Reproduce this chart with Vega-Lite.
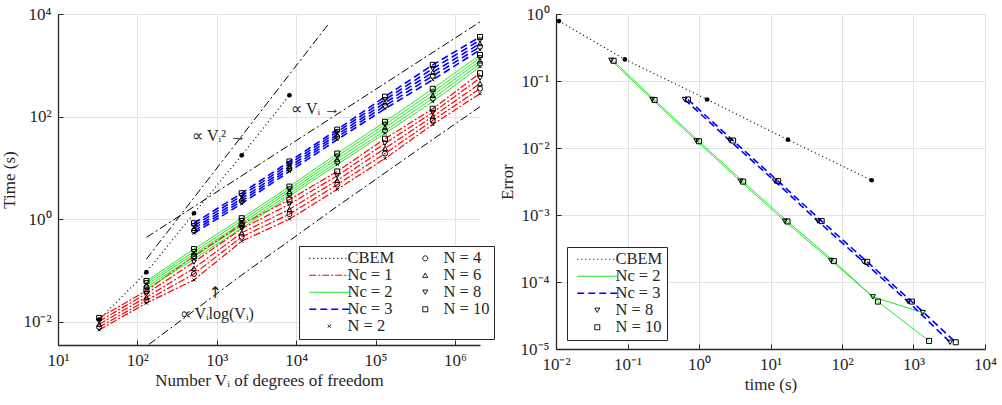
{
  "$schema": "https://vega.github.io/schema/vega-lite/v6.json",
  "background": "white",
  "padding": {"left": 0, "top": 5, "right": 1, "bottom": 5},
  "spacing": 3,
  "config": {
    "view": {"stroke": null},
    "font": "Liberation Serif",
    "axis": {
      "domainColor": "#262626", "domainWidth": 1.3, "tickColor": "#262626", "tickSize": -5,
      "labelFont": "Liberation Serif", "labelFontSize": 17, "labelColor": "#262626", "labelPadding": 12,
      "titleFont": "Liberation Serif", "titleFontSize": 17, "titleFontWeight": "normal", "titleColor": "#262626",
      "gridColor": "#e3e3e3", "gridWidth": 1, "labelFlush": false, "titlePadding": 4
    },
    "legend": {
      "title": null, "fillColor": "white", "strokeColor": "#262626", "padding": 4,
      "labelFont": "Liberation Serif", "labelFontSize": 16.5, "labelColor": "#262626",
      "rowPadding": 0, "columnPadding": 4, "symbolSize": 25, "symbolOffset": 18, "labelOffset": 10, "labelLimit": 80
    }
  },
  "resolve": {
    "scale": {"color": "independent", "shape": "independent", "strokeDash": "independent", "strokeWidth": "independent"},
    "legend": {"color": "independent", "shape": "independent", "strokeDash": "independent", "strokeWidth": "independent"}
  },
  "datasets": {
    "leftref": [
      {"V": 130, "t": 0.166, "ref": "V2"}, {"V": 25600, "t": 6400, "ref": "V2"},
      {"V": 130, "t": 0.44, "ref": "V1"}, {"V": 2070000, "t": 7000, "ref": "V1"},
      {"V": 140, "t": 0.0036, "ref": "VlogV"}, {"V": 2060, "t": 0.081, "ref": "VlogV"}, {"V": 32900, "t": 1.77, "ref": "VlogV"}, {"V": 526000, "t": 35.8, "ref": "VlogV"}, {"V": 2070000, "t": 155, "ref": "VlogV"}
    ],
    "leftlabels": [
      {"V": 1070, "t": 41, "label": "∝ Vᵢ² →"},
      {"V": 17600, "t": 142, "label": "∝ Vᵢ →"},
      {"V": 1000, "t": 0.0141, "label": "∝ Vᵢlog(Vᵢ)"}
    ],
    "leftarrow": [
      {"V": 955, "t": 0.036, "label": "↑"}
    ],
    "left": [
      {"V": 33, "t": 0.011, "Nc": "CBEM", "N": "CBEM"}, {"V": 130, "t": 0.092, "Nc": "CBEM", "N": "CBEM"}, {"V": 516, "t": 1.3, "Nc": "CBEM", "N": "CBEM"}, {"V": 2060, "t": 17.5, "Nc": "CBEM", "N": "CBEM"}, {"V": 8230, "t": 260, "Nc": "CBEM", "N": "CBEM"},

      {"V": 33, "t": 0.0069, "Nc": "Nc = 1", "N": "N = 2"}, {"V": 130, "t": 0.023, "Nc": "Nc = 1", "N": "N = 2"}, {"V": 516, "t": 0.065, "Nc": "Nc = 1", "N": "N = 2"}, {"V": 2060, "t": 0.37, "Nc": "Nc = 1", "N": "N = 2"}, {"V": 8230, "t": 1.0, "Nc": "Nc = 1", "N": "N = 2"}, {"V": 32900, "t": 3.8, "Nc": "Nc = 1", "N": "N = 2"}, {"V": 131600, "t": 15.2, "Nc": "Nc = 1", "N": "N = 2"}, {"V": 526000, "t": 70, "Nc": "Nc = 1", "N": "N = 2"}, {"V": 2070000, "t": 280, "Nc": "Nc = 1", "N": "N = 2"},
      {"V": 33, "t": 0.0078, "Nc": "Nc = 1", "N": "N = 4"}, {"V": 130, "t": 0.026, "Nc": "Nc = 1", "N": "N = 4"}, {"V": 516, "t": 0.085, "Nc": "Nc = 1", "N": "N = 4"}, {"V": 2060, "t": 0.45, "Nc": "Nc = 1", "N": "N = 4"}, {"V": 8230, "t": 1.25, "Nc": "Nc = 1", "N": "N = 4"}, {"V": 32900, "t": 4.7, "Nc": "Nc = 1", "N": "N = 4"}, {"V": 131600, "t": 19, "Nc": "Nc = 1", "N": "N = 4"}, {"V": 526000, "t": 84, "Nc": "Nc = 1", "N": "N = 4"}, {"V": 2070000, "t": 350, "Nc": "Nc = 1", "N": "N = 4"},
      {"V": 33, "t": 0.0089, "Nc": "Nc = 1", "N": "N = 6"}, {"V": 130, "t": 0.030, "Nc": "Nc = 1", "N": "N = 6"}, {"V": 516, "t": 0.11, "Nc": "Nc = 1", "N": "N = 6"}, {"V": 2060, "t": 0.54, "Nc": "Nc = 1", "N": "N = 6"}, {"V": 8230, "t": 1.55, "Nc": "Nc = 1", "N": "N = 6"}, {"V": 32900, "t": 5.7, "Nc": "Nc = 1", "N": "N = 6"}, {"V": 131600, "t": 24, "Nc": "Nc = 1", "N": "N = 6"}, {"V": 526000, "t": 100, "Nc": "Nc = 1", "N": "N = 6"}, {"V": 2070000, "t": 440, "Nc": "Nc = 1", "N": "N = 6"},
      {"V": 33, "t": 0.0102, "Nc": "Nc = 1", "N": "N = 8"}, {"V": 130, "t": 0.035, "Nc": "Nc = 1", "N": "N = 8"}, {"V": 516, "t": 0.145, "Nc": "Nc = 1", "N": "N = 8"}, {"V": 2060, "t": 0.65, "Nc": "Nc = 1", "N": "N = 8"}, {"V": 8230, "t": 1.95, "Nc": "Nc = 1", "N": "N = 8"}, {"V": 32900, "t": 7.0, "Nc": "Nc = 1", "N": "N = 8"}, {"V": 131600, "t": 30, "Nc": "Nc = 1", "N": "N = 8"}, {"V": 526000, "t": 120, "Nc": "Nc = 1", "N": "N = 8"}, {"V": 2070000, "t": 560, "Nc": "Nc = 1", "N": "N = 8"},
      {"V": 33, "t": 0.0118, "Nc": "Nc = 1", "N": "N = 10"}, {"V": 130, "t": 0.040, "Nc": "Nc = 1", "N": "N = 10"}, {"V": 516, "t": 0.19, "Nc": "Nc = 1", "N": "N = 10"}, {"V": 2060, "t": 0.79, "Nc": "Nc = 1", "N": "N = 10"}, {"V": 8230, "t": 2.4, "Nc": "Nc = 1", "N": "N = 10"}, {"V": 32900, "t": 8.5, "Nc": "Nc = 1", "N": "N = 10"}, {"V": 131600, "t": 37, "Nc": "Nc = 1", "N": "N = 10"}, {"V": 526000, "t": 142, "Nc": "Nc = 1", "N": "N = 10"}, {"V": 2070000, "t": 700, "Nc": "Nc = 1", "N": "N = 10"},

      {"V": 130, "t": 0.043, "Nc": "Nc = 2", "N": "N = 2"}, {"V": 516, "t": 0.166, "Nc": "Nc = 2", "N": "N = 2"}, {"V": 2060, "t": 0.66, "Nc": "Nc = 2", "N": "N = 2"}, {"V": 8230, "t": 2.8, "Nc": "Nc = 2", "N": "N = 2"}, {"V": 32900, "t": 11.6, "Nc": "Nc = 2", "N": "N = 2"}, {"V": 131600, "t": 47, "Nc": "Nc = 2", "N": "N = 2"}, {"V": 526000, "t": 195, "Nc": "Nc = 2", "N": "N = 2"}, {"V": 2070000, "t": 935, "Nc": "Nc = 2", "N": "N = 2"},
      {"V": 130, "t": 0.047, "Nc": "Nc = 2", "N": "N = 4"}, {"V": 516, "t": 0.185, "Nc": "Nc = 2", "N": "N = 4"}, {"V": 2060, "t": 0.74, "Nc": "Nc = 2", "N": "N = 4"}, {"V": 8230, "t": 3.1, "Nc": "Nc = 2", "N": "N = 4"}, {"V": 32900, "t": 13, "Nc": "Nc = 2", "N": "N = 4"}, {"V": 131600, "t": 53, "Nc": "Nc = 2", "N": "N = 4"}, {"V": 526000, "t": 225, "Nc": "Nc = 2", "N": "N = 4"}, {"V": 2070000, "t": 1070, "Nc": "Nc = 2", "N": "N = 4"},
      {"V": 130, "t": 0.052, "Nc": "Nc = 2", "N": "N = 6"}, {"V": 516, "t": 0.208, "Nc": "Nc = 2", "N": "N = 6"}, {"V": 2060, "t": 0.83, "Nc": "Nc = 2", "N": "N = 6"}, {"V": 8230, "t": 3.45, "Nc": "Nc = 2", "N": "N = 6"}, {"V": 32900, "t": 14.8, "Nc": "Nc = 2", "N": "N = 6"}, {"V": 131600, "t": 61, "Nc": "Nc = 2", "N": "N = 6"}, {"V": 526000, "t": 260, "Nc": "Nc = 2", "N": "N = 6"}, {"V": 2070000, "t": 1220, "Nc": "Nc = 2", "N": "N = 6"},
      {"V": 130, "t": 0.057, "Nc": "Nc = 2", "N": "N = 8"}, {"V": 516, "t": 0.232, "Nc": "Nc = 2", "N": "N = 8"}, {"V": 2060, "t": 0.93, "Nc": "Nc = 2", "N": "N = 8"}, {"V": 8230, "t": 3.85, "Nc": "Nc = 2", "N": "N = 8"}, {"V": 32900, "t": 16.8, "Nc": "Nc = 2", "N": "N = 8"}, {"V": 131600, "t": 70, "Nc": "Nc = 2", "N": "N = 8"}, {"V": 526000, "t": 300, "Nc": "Nc = 2", "N": "N = 8"}, {"V": 2070000, "t": 1390, "Nc": "Nc = 2", "N": "N = 8"},
      {"V": 130, "t": 0.062, "Nc": "Nc = 2", "N": "N = 10"}, {"V": 516, "t": 0.26, "Nc": "Nc = 2", "N": "N = 10"}, {"V": 2060, "t": 1.04, "Nc": "Nc = 2", "N": "N = 10"}, {"V": 8230, "t": 4.3, "Nc": "Nc = 2", "N": "N = 10"}, {"V": 32900, "t": 19, "Nc": "Nc = 2", "N": "N = 10"}, {"V": 131600, "t": 79, "Nc": "Nc = 2", "N": "N = 10"}, {"V": 526000, "t": 348, "Nc": "Nc = 2", "N": "N = 10"}, {"V": 2070000, "t": 1590, "Nc": "Nc = 2", "N": "N = 10"},

      {"V": 516, "t": 0.53, "Nc": "Nc = 3", "N": "N = 2"}, {"V": 2060, "t": 2.0, "Nc": "Nc = 3", "N": "N = 2"}, {"V": 8230, "t": 8.5, "Nc": "Nc = 3", "N": "N = 2"}, {"V": 32900, "t": 35.5, "Nc": "Nc = 3", "N": "N = 2"}, {"V": 131600, "t": 142, "Nc": "Nc = 3", "N": "N = 2"}, {"V": 526000, "t": 521, "Nc": "Nc = 3", "N": "N = 2"}, {"V": 2070000, "t": 2000, "Nc": "Nc = 3", "N": "N = 2"},
      {"V": 516, "t": 0.59, "Nc": "Nc = 3", "N": "N = 4"}, {"V": 2060, "t": 2.25, "Nc": "Nc = 3", "N": "N = 4"}, {"V": 8230, "t": 9.5, "Nc": "Nc = 3", "N": "N = 4"}, {"V": 32900, "t": 40, "Nc": "Nc = 3", "N": "N = 4"}, {"V": 131600, "t": 162, "Nc": "Nc = 3", "N": "N = 4"}, {"V": 526000, "t": 620, "Nc": "Nc = 3", "N": "N = 4"}, {"V": 2070000, "t": 2300, "Nc": "Nc = 3", "N": "N = 4"},
      {"V": 516, "t": 0.66, "Nc": "Nc = 3", "N": "N = 6"}, {"V": 2060, "t": 2.5, "Nc": "Nc = 3", "N": "N = 6"}, {"V": 8230, "t": 10.6, "Nc": "Nc = 3", "N": "N = 6"}, {"V": 32900, "t": 44.5, "Nc": "Nc = 3", "N": "N = 6"}, {"V": 131600, "t": 186, "Nc": "Nc = 3", "N": "N = 6"}, {"V": 526000, "t": 730, "Nc": "Nc = 3", "N": "N = 6"}, {"V": 2070000, "t": 2650, "Nc": "Nc = 3", "N": "N = 6"},
      {"V": 516, "t": 0.74, "Nc": "Nc = 3", "N": "N = 8"}, {"V": 2060, "t": 2.85, "Nc": "Nc = 3", "N": "N = 8"}, {"V": 8230, "t": 11.9, "Nc": "Nc = 3", "N": "N = 8"}, {"V": 32900, "t": 50, "Nc": "Nc = 3", "N": "N = 8"}, {"V": 131600, "t": 213, "Nc": "Nc = 3", "N": "N = 8"}, {"V": 526000, "t": 860, "Nc": "Nc = 3", "N": "N = 8"}, {"V": 2070000, "t": 3080, "Nc": "Nc = 3", "N": "N = 8"},
      {"V": 516, "t": 0.83, "Nc": "Nc = 3", "N": "N = 10"}, {"V": 2060, "t": 3.2, "Nc": "Nc = 3", "N": "N = 10"}, {"V": 8230, "t": 13.3, "Nc": "Nc = 3", "N": "N = 10"}, {"V": 32900, "t": 55.6, "Nc": "Nc = 3", "N": "N = 10"}, {"V": 131600, "t": 244, "Nc": "Nc = 3", "N": "N = 10"}, {"V": 526000, "t": 1020, "Nc": "Nc = 3", "N": "N = 10"}, {"V": 2070000, "t": 3570, "Nc": "Nc = 3", "N": "N = 10"}
    ],
    "right": [
      {"time": 0.011, "err": 0.785, "Nc": "CBEM", "N": "CBEM"}, {"time": 0.092, "err": 0.21, "Nc": "CBEM", "N": "CBEM"}, {"time": 1.3, "err": 0.053, "Nc": "CBEM", "N": "CBEM"}, {"time": 17.5, "err": 0.0133, "Nc": "CBEM", "N": "CBEM"}, {"time": 260, "err": 0.0033, "Nc": "CBEM", "N": "CBEM"},
      {"time": 0.059, "err": 0.204, "Nc": "Nc = 2", "N": "N = 8"}, {"time": 0.222, "err": 0.053, "Nc": "Nc = 2", "N": "N = 8"}, {"time": 0.92, "err": 0.0128, "Nc": "Nc = 2", "N": "N = 8"}, {"time": 3.8, "err": 0.0032, "Nc": "Nc = 2", "N": "N = 8"}, {"time": 15.8, "err": 0.00081, "Nc": "Nc = 2", "N": "N = 8"}, {"time": 70, "err": 0.00021, "Nc": "Nc = 2", "N": "N = 8"}, {"time": 270, "err": 0.00006, "Nc": "Nc = 2", "N": "N = 8"}, {"time": 1350, "err": 0.000035, "Nc": "Nc = 2", "N": "N = 8"},
      {"time": 0.064, "err": 0.2, "Nc": "Nc = 2", "N": "N = 10"}, {"time": 0.24, "err": 0.052, "Nc": "Nc = 2", "N": "N = 10"}, {"time": 1.0, "err": 0.0126, "Nc": "Nc = 2", "N": "N = 10"}, {"time": 4.15, "err": 0.00315, "Nc": "Nc = 2", "N": "N = 10"}, {"time": 17.3, "err": 0.0008, "Nc": "Nc = 2", "N": "N = 10"}, {"time": 77, "err": 0.000205, "Nc": "Nc = 2", "N": "N = 10"}, {"time": 318, "err": 0.000051, "Nc": "Nc = 2", "N": "N = 10"}, {"time": 1650, "err": 0.0000132, "Nc": "Nc = 2", "N": "N = 10"},
      {"time": 0.63, "err": 0.053, "Nc": "Nc = 3", "N": "N = 8"}, {"time": 2.7, "err": 0.0129, "Nc": "Nc = 3", "N": "N = 8"}, {"time": 11.5, "err": 0.0032, "Nc": "Nc = 3", "N": "N = 8"}, {"time": 46, "err": 0.00081, "Nc": "Nc = 3", "N": "N = 8"}, {"time": 200, "err": 0.0002, "Nc": "Nc = 3", "N": "N = 8"}, {"time": 840, "err": 0.000051, "Nc": "Nc = 3", "N": "N = 8"}, {"time": 3250, "err": 0.0000126, "Nc": "Nc = 3", "N": "N = 8"},
      {"time": 0.7, "err": 0.053, "Nc": "Nc = 3", "N": "N = 10"}, {"time": 3.0, "err": 0.0129, "Nc": "Nc = 3", "N": "N = 10"}, {"time": 12.8, "err": 0.0032, "Nc": "Nc = 3", "N": "N = 10"}, {"time": 52, "err": 0.00081, "Nc": "Nc = 3", "N": "N = 10"}, {"time": 225, "err": 0.0002, "Nc": "Nc = 3", "N": "N = 10"}, {"time": 950, "err": 0.000051, "Nc": "Nc = 3", "N": "N = 10"}, {"time": 3900, "err": 0.0000126, "Nc": "Nc = 3", "N": "N = 10"}
    ]
  },
  "hconcat": [
    {
      "width": 422, "height": 331,
      "layer": [
        {
          "data": {"name": "leftref"},
          "mark": {"type": "line", "color": "black", "strokeWidth": 1, "strokeDash": [8, 3, 2, 3], "clip": true},
          "encoding": {
            "x": {"field": "V", "type": "quantitative", "scale": {"type": "log", "domain": [10, 2070000], "nice": false},
                  "axis": {"values": [10, 100, 1000, 10000, 100000, 1000000], "title": "Number Vᵢ of degrees of freedom",
                           "labelExpr": "'10' + replace(replace(replace(replace(replace(replace(replace(replace(''+round(log(datum.value)/LN10),'-','⁻'),'0','⁰'),'1','¹'),'2','²'),'3','³'),'4','⁴'),'5','⁵'),'6','⁶')"}},
            "y": {"field": "t", "type": "quantitative", "scale": {"type": "log", "domain": [0.0035, 10000], "nice": false},
                  "axis": {"values": [0.01, 1, 100, 10000], "title": "Time (s)",
                           "labelExpr": "'10' + replace(replace(replace(replace(replace(replace(replace(replace(''+round(log(datum.value)/LN10),'-','⁻'),'0','⁰'),'1','¹'),'2','²'),'3','³'),'4','⁴'),'5','⁵'),'6','⁶')"}},
            "detail": {"field": "ref"}
          }
        },
        {
          "data": {"name": "left"},
          "mark": {"type": "line", "clip": true},
          "encoding": {
            "x": {"field": "V", "type": "quantitative"},
            "y": {"field": "t", "type": "quantitative"},
            "color": {"field": "Nc", "type": "nominal",
                      "scale": {"domain": ["CBEM", "Nc = 1", "Nc = 2", "Nc = 3", "N = 2", "N = 4", "N = 6", "N = 8", "N = 10"],
                                "range": ["black", "#ff0000", "#00e600", "#0000ff", "black", "black", "black", "black", "black"]},
                      "legend": {"orient": "none", "legendX": 241, "legendY": 232, "columns": 2}},
            "strokeDash": {"field": "Nc", "type": "nominal",
                           "scale": {"domain": ["CBEM", "Nc = 1", "Nc = 2", "Nc = 3", "N = 2", "N = 4", "N = 6", "N = 8", "N = 10"],
                                     "range": [[1, 3], [7, 2, 2, 2], [1, 0], [7, 4], [1, 0], [1, 0], [1, 0], [1, 0], [1, 0]]}},
            "strokeWidth": {"field": "Nc", "type": "nominal",
                            "scale": {"type": "ordinal", "domain": ["CBEM", "Nc = 1", "Nc = 2", "Nc = 3", "N = 2", "N = 4", "N = 6", "N = 8", "N = 10"],
                                      "range": [1.2, 1.2, 1, 1.6, 1, 1, 1, 1, 1]}},
            "detail": {"field": "N"}
          }
        },
        {
          "data": {"name": "left"},
          "transform": [{"filter": "datum.N !== 'CBEM'"}],
          "mark": {"type": "point", "filled": false, "color": "black", "strokeWidth": 1, "opacity": 1, "size": 25},
          "encoding": {
            "x": {"field": "V", "type": "quantitative"},
            "y": {"field": "t", "type": "quantitative"},
            "shape": {"field": "N", "type": "nominal",
                      "scale": {"domain": ["CBEM", "Nc = 1", "Nc = 2", "Nc = 3", "N = 2", "N = 4", "N = 6", "N = 8", "N = 10"],
                                "range": ["M-8,0H8", "M-8,0H8", "M-8,0H8", "M-8,0H8", "M-0.6,-0.6L0.6,0.6M0.6,-0.6L-0.6,0.6", "circle", "triangle-up", "triangle-down", "square"]}}
          }
        },
        {
          "data": {"name": "left"},
          "transform": [{"filter": "datum.N === 'CBEM'"}],
          "mark": {"type": "point", "filled": true, "color": "black", "size": 22, "opacity": 1, "shape": "circle"},
          "encoding": {
            "x": {"field": "V", "type": "quantitative"},
            "y": {"field": "t", "type": "quantitative"}
          }
        },
        {
          "data": {"name": "leftlabels"},
          "mark": {"type": "text", "font": "Liberation Serif", "fontSize": 16, "color": "#262626"},
          "encoding": {
            "x": {"field": "V", "type": "quantitative"},
            "y": {"field": "t", "type": "quantitative"},
            "text": {"field": "label"}
          }
        },
        {
          "data": {"name": "leftarrow"},
          "mark": {"type": "text", "font": "DejaVu Sans", "fontSize": 16, "color": "#262626"},
          "encoding": {
            "x": {"field": "V", "type": "quantitative"},
            "y": {"field": "t", "type": "quantitative"},
            "text": {"field": "label"}
          }
        }
      ]
    },
    {
      "width": 429, "height": 335,
      "layer": [
        {
          "data": {"name": "right"},
          "mark": {"type": "line", "clip": true},
          "encoding": {
            "x": {"field": "time", "type": "quantitative", "scale": {"type": "log", "domain": [0.01, 10000], "nice": false},
                  "axis": {"values": [0.01, 0.1, 1, 10, 100, 1000, 10000], "title": "time (s)",
                           "labelExpr": "'10' + replace(replace(replace(replace(replace(replace(replace(replace(''+round(log(datum.value)/LN10),'-','⁻'),'0','⁰'),'1','¹'),'2','²'),'3','³'),'4','⁴'),'5','⁵'),'6','⁶')"}},
            "y": {"field": "err", "type": "quantitative", "scale": {"type": "log", "domain": [0.00001, 1], "nice": false},
                  "axis": {"values": [0.00001, 0.0001, 0.001, 0.01, 0.1, 1], "title": "Error",
                           "labelExpr": "'10' + replace(replace(replace(replace(replace(replace(replace(replace(''+round(log(datum.value)/LN10),'-','⁻'),'0','⁰'),'1','¹'),'2','²'),'3','³'),'4','⁴'),'5','⁵'),'6','⁶')"}},
            "color": {"field": "Nc", "type": "nominal",
                      "scale": {"domain": ["CBEM", "Nc = 2", "Nc = 3", "N = 8", "N = 10"],
                                "range": ["black", "#00e600", "#0000ff", "black", "black"]},
                      "legend": {"orient": "none", "legendX": 11, "legendY": 233, "columns": 1}},
            "strokeDash": {"field": "Nc", "type": "nominal",
                           "scale": {"domain": ["CBEM", "Nc = 2", "Nc = 3", "N = 8", "N = 10"],
                                     "range": [[1, 3], [1, 0], [7, 4], [1, 0], [1, 0]]}},
            "strokeWidth": {"field": "Nc", "type": "nominal",
                            "scale": {"type": "ordinal", "domain": ["CBEM", "Nc = 2", "Nc = 3", "N = 8", "N = 10"],
                                      "range": [1.2, 1, 1.6, 1, 1]}},
            "detail": {"field": "N"}
          }
        },
        {
          "data": {"name": "right"},
          "transform": [{"filter": "datum.N !== 'CBEM'"}],
          "mark": {"type": "point", "filled": false, "color": "black", "strokeWidth": 1, "opacity": 1, "size": 25},
          "encoding": {
            "x": {"field": "time", "type": "quantitative"},
            "y": {"field": "err", "type": "quantitative"},
            "shape": {"field": "N", "type": "nominal",
                      "scale": {"domain": ["CBEM", "Nc = 2", "Nc = 3", "N = 8", "N = 10"],
                                "range": ["M-8,0H8", "M-8,0H8", "M-8,0H8", "triangle-down", "square"]}}
          }
        },
        {
          "data": {"name": "right"},
          "transform": [{"filter": "datum.N === 'CBEM'"}],
          "mark": {"type": "point", "filled": true, "color": "black", "size": 22, "opacity": 1, "shape": "circle"},
          "encoding": {
            "x": {"field": "time", "type": "quantitative"},
            "y": {"field": "err", "type": "quantitative"}
          }
        }
      ]
    }
  ]
}
